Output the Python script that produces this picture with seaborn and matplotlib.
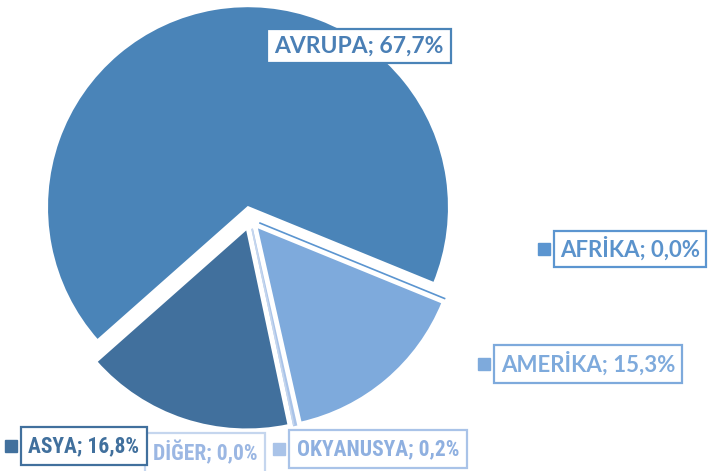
import matplotlib
matplotlib.use("Agg")
import matplotlib.pyplot as plt
import seaborn as sns

# data (clockwise order, as in the source chart)
regions = ["AVRUPA", "AFRİKA", "AMERİKA", "OKYANUSYA", "DİĞER", "ASYA"]
shares = [67.7, 0.0, 15.3, 0.2, 0.0, 16.8]
labels = ["AVRUPA; 67,7%", "AFRİKA; 0,0%", "AMERİKA; 15,3%",
          "OKYANUSYA; 0,2%", "DİĞER; 0,0%", "ASYA; 16,8%"]

slice_colors = ["#4a84b8", "#5b95d0", "#7eaadc", "#a9c3e8", "#c5d6ee", "#41709d"]
text_colors = ["#4a7fb5", "#5b93cc", "#7eaadc", "#8fb0e0", "#9bb7e3", "#41709d"]
explode = [12, 10, 10, 10, 10, 10]

sns.set_style("white")
plt.rcParams["font.family"] = ["Lato", "DejaVu Sans"]
narrow = ["Liberation Sans Narrow", "Roboto Condensed", "Lato", "DejaVu Sans"]

W, H = 720, 471
fig = plt.figure(figsize=(7.2, 4.71), dpi=100)
ax = fig.add_axes([0, 0, 1, 1])

wedges, _ = ax.pie(shares, colors=slice_colors, startangle=221.5, counterclock=False,
                   explode=explode, radius=201, center=(250, H - 219), normalize=True,
                   wedgeprops=dict(edgecolor="white", linewidth=1.5))
for w, v, c in zip(wedges, shares, slice_colors):
    if v < 0.5:
        w.set_edgecolor(c)
        w.set_linewidth(1.2)

# pie() resets the limits, so set pixel-like limits afterwards
ax.set_xlim(0, W)
ax.set_ylim(0, H)
ax.set_aspect("equal")
ax.axis("off")

# label boxes: (center x, center y in pixels from top, font size, box pad, narrow font, show key)
label_pos = {
    "AVRUPA": (359, 46, 16.5, 0.3, False, False),
    "AFRİKA": (630, 249, 16, 0.28, False, True),
    "AMERİKA": (588, 364, 16, 0.3, False, True),
    "OKYANUSYA": (378, 449, 15.5, 0.35, True, True),
    "DİĞER": (205, 453, 15.5, 0.35, True, True),
    "ASYA": (84, 446, 15.5, 0.35, True, True),
}

fig.canvas.draw()
for name, lab, sc, tc in zip(regions, labels, slice_colors, text_colors):
    x, y, fs, pad, nar, key = label_pos[name]
    ec = "#c5d6ee" if name == "DİĞER" else sc
    t = ax.text(x, H - y, lab, ha="center", va="center", fontsize=fs,
                fontweight="bold", color=tc, family=narrow if nar else None,
                bbox=dict(boxstyle=f"square,pad={pad}", fc="white", ec=ec, lw=1.6))
    if key:
        fig.canvas.draw()
        bb = t.get_bbox_patch().get_window_extent()
        ax.plot(bb.x0 - 10, H - y, marker="s", markersize=8.5, color=sc,
                linestyle="none", zorder=1)

fig.savefig("out.png", dpi=100, facecolor="white")
